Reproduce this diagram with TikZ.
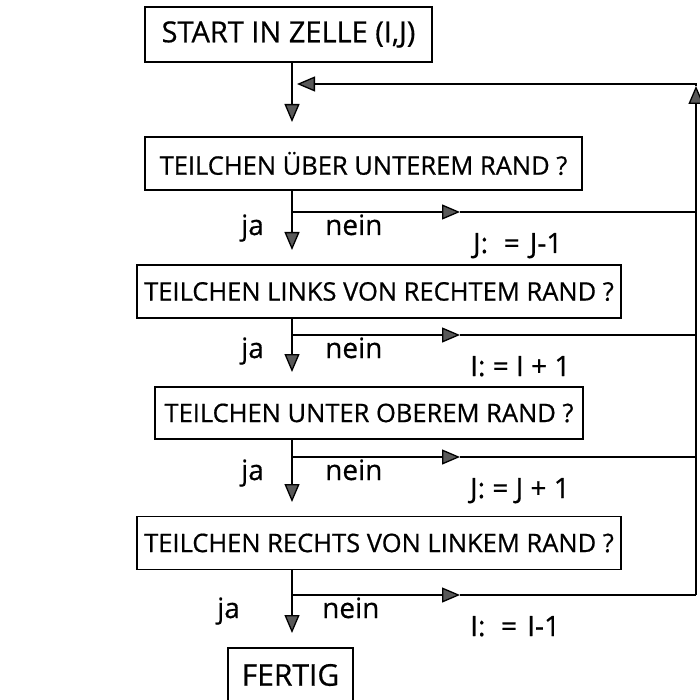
\documentclass[tikz,border=0pt]{standalone}
\usepackage{fontspec}
\setmainfont{Open Sans}
\newfontfamily\chartfont{Open Sans}[FakeBold=0.6]
\usetikzlibrary{arrows.meta}
\begin{document}
\begin{tikzpicture}[x=1pt,y=-1pt,
  txt/.style={font=\chartfont\fontsize{#1}{#1}\selectfont},
  box/.style={draw, line width=1.3pt, inner sep=0pt, anchor=center},
  lbl/.style={anchor=base west, inner sep=0pt, txt=28},
  flow/.style={line width=1.3pt},
  tip/.style={flow, -{Triangle[length=18pt,width=15pt,fill=black!65]}}]
\useasboundingbox (0,0) rectangle (699,700);

% decision boxes along the main column
\node[box, txt=29, minimum width=287pt, minimum height=55pt] (start) at (288.5,34.5) {START IN ZELLE (I,J)};
\node[box, txt=25.5, minimum width=437pt, minimum height=53pt] (q1) at (363.5,163.5) {TEILCHEN ÜBER UNTEREM RAND ?};
\node[box, txt=25.5, minimum width=484pt, minimum height=53pt] (q2) at (379,291.5) {TEILCHEN LINKS VON RECHTEM RAND ?};
\node[box, txt=25.5, minimum width=428pt, minimum height=52pt] (q3) at (369,413) {TEILCHEN UNTER OBEREM RAND ?};
\node[box, txt=25.5, minimum width=484pt, minimum height=53pt] (q4) at (379,543) {TEILCHEN RECHTS VON LINKEM RAND ?};
\node[box, txt=30, minimum width=125pt, minimum height=54pt] (fertig) at (290.5,675) {FERTIG};

% main column and branch points
\coordinate (col) at (292,0);
\coordinate (t0) at (292,122);
\coordinate (t1) at (292,250);
\coordinate (t2) at (292,372);
\coordinate (t3) at (292,502);
\coordinate (t4) at (292,633);
\coordinate (j1) at (292,212);
\coordinate (j2) at (292,335);
\coordinate (j3) at (292,457);
\coordinate (j4) at (292,595);
\coordinate (m1) at (460,212);
\coordinate (m2) at (460,335);
\coordinate (m3) at (460,457);
\coordinate (m4) at (460,595);
\coordinate (r1) at (696,212);
\coordinate (r2) at (696,335);
\coordinate (r3) at (696,457);
\coordinate (r4) at (696,595);
\coordinate (rup) at (696,86);
\coordinate (corner) at (696,84);
\coordinate (back) at (297,84);

% "ja" path downwards
\draw[tip] (start.south -| col) -- (t0);
\draw[tip] (q1.south -| col) -- (t1);
\draw[tip] (q2.south -| col) -- (t2);
\draw[tip] (q3.south -| col) -- (t3);
\draw[tip] (q4.south -| col) -- (t4);

% "nein" branches to the return line
\draw[tip] (j1) -- (m1);  \draw[flow] (m1) -- (r1);
\draw[tip] (j2) -- (m2);  \draw[flow] (m2) -- (r2);
\draw[tip] (j3) -- (m3);  \draw[flow] (m3) -- (r3);
\draw[tip] (j4) -- (m4);  \draw[flow] (m4) -- (r4);

% return line back into the column
\draw[tip] (r4) -- (rup);
\draw[tip] (rup) -- (corner) -- (back);

% branch labels
\node[lbl] (ja1) at (241,235) {ja};
\node[lbl] (ne1) at (325,235) {nein};
\node[lbl] (as1) at (473,253) {J:\hspace{0.3em} =\hspace{0.1em} J-1};
\node[lbl] (ja2) at (241,358) {ja};
\node[lbl] (ne2) at (325,358) {nein};
\node[lbl] (as2) at (470,376) {I: = I + 1};
\node[lbl] (ja3) at (241,480) {ja};
\node[lbl] (ne3) at (325,480) {nein};
\node[lbl] (as3) at (470,498) {J: = J + 1};
\node[lbl] (ja4) at (217,618) {ja};
\node[lbl] (ne4) at (322,618) {nein};
\node[lbl] (as4) at (470,636) {I:\hspace{0.3em} =\hspace{0.1em} I-1};
\end{tikzpicture}
\end{document}
